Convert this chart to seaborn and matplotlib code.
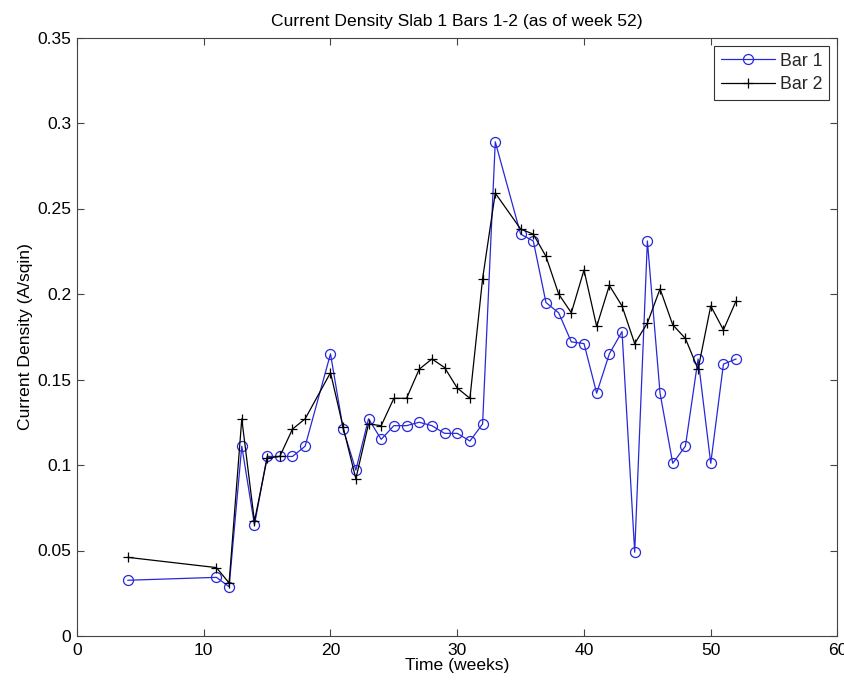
import matplotlib
matplotlib.use("Agg")
import matplotlib.pyplot as plt
import seaborn as sns
import pandas as pd

# Weekly current density readings, slab 1
weeks = [4, 11, 12, 13, 14, 15, 16, 17, 18, 20, 21, 22, 23, 24, 25, 26, 27, 28,
         29, 30, 31, 32, 33, 35, 36, 37, 38, 39, 40, 41, 42, 43, 44, 45, 46, 47,
         48, 49, 50, 51, 52]
bar1 = [0.0326, 0.0343, 0.0288, 0.111, 0.065, 0.105, 0.105, 0.105, 0.111,
        0.165, 0.121, 0.097, 0.127, 0.115, 0.123, 0.123, 0.125, 0.123,
        0.1185, 0.1185, 0.114, 0.124, 0.289, 0.235, 0.231, 0.195, 0.189,
        0.172, 0.171, 0.142, 0.165, 0.178, 0.049, 0.231, 0.142, 0.101,
        0.111, 0.162, 0.101, 0.159, 0.162]
bar2 = [0.046, 0.040, 0.031, 0.127, 0.067, 0.104, 0.105, 0.121, 0.127,
        0.154, 0.122, 0.092, 0.124, 0.123, 0.139, 0.139, 0.156, 0.162,
        0.157, 0.145, 0.139, 0.209, 0.259, 0.238, 0.235, 0.222, 0.200,
        0.189, 0.214, 0.181, 0.205, 0.193, 0.171, 0.183, 0.203, 0.182,
        0.174, 0.156, 0.193, 0.179, 0.196]

x_ticks = [0, 10, 20, 30, 40, 50, 60]
y_ticks = [0, 0.05, 0.1, 0.15, 0.2, 0.25, 0.3, 0.35]
y_tick_labels = ["0", "0.05", "0.1", "0.15", "0.2", "0.25", "0.3", "0.35"]

df = pd.DataFrame({"week": weeks, "Bar 1": bar1, "Bar 2": bar2})

sns.set_theme(style="white")
plt.rcParams["font.family"] = ["Liberation Sans", "DejaVu Sans"]

fig = plt.figure(figsize=(8.45, 6.84), dpi=100)
ax = fig.add_axes([77 / 845, 1 - 636 / 684, (837.5 - 77) / 845, (636 - 37.5) / 684])

blue = "#2828d8"
sns.lineplot(data=df, x="week", y="Bar 1", ax=ax, color=blue, lw=0.9,
             marker="o", markersize=7.2, markerfacecolor="none",
             markeredgecolor=blue, markeredgewidth=0.9, label="Bar 1")
sns.lineplot(data=df, x="week", y="Bar 2", ax=ax, color="black", lw=0.9,
             marker="+", markersize=7.6, markeredgewidth=0.9,
             markeredgecolor="black", label="Bar 2")

ax.set_xlim(0, 60)
ax.set_ylim(0, 0.35)
ax.set_xticks(x_ticks)
ax.set_yticks(y_ticks)
ax.set_yticklabels(y_tick_labels)
ax.tick_params(direction="in", length=5, width=0.8, color="#444444",
               labelsize=12.6, labelcolor="black", top=True, right=True,
               bottom=True, left=True)
ax.tick_params(axis="x", pad=5)
ax.tick_params(axis="y", pad=4)
for s in ax.spines.values():
    s.set_color("#444444")
    s.set_linewidth(0.8)

ax.set_xlabel("Time (weeks)", fontsize=12.6, color="black", labelpad=0)
ax.set_ylabel("Current Density (A/sqin)", fontsize=12.6, color="black", labelpad=3)
ax.set_title("Current Density Slab 1 Bars 1-2 (as of week 52)", fontsize=12.6,
             color="black", pad=8)

leg = ax.legend(loc="upper right", fontsize=12.8, frameon=True, fancybox=False,
                edgecolor="black", handlelength=3.0, borderpad=0.4,
                labelspacing=0.35, handletextpad=0.3, borderaxespad=0.45)
leg.get_frame().set_linewidth(0.8)

fig.savefig("out.png", dpi=100, facecolor="white")
